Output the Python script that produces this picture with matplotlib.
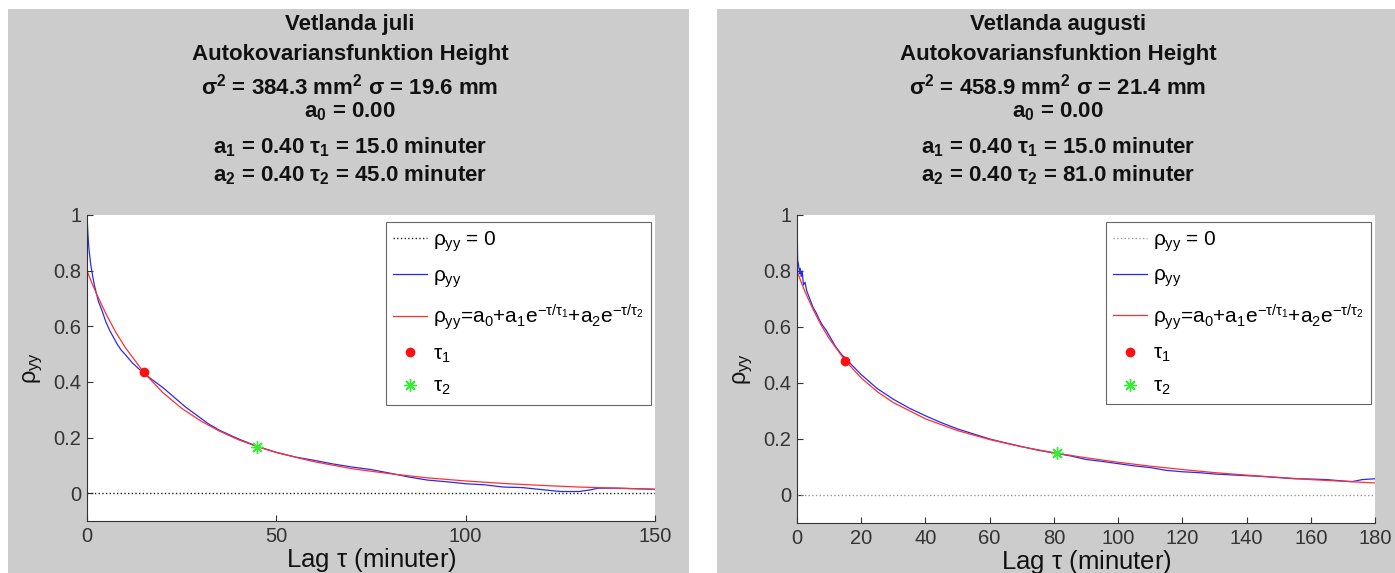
import matplotlib
matplotlib.use("Agg")
import matplotlib.pyplot as plt
from matplotlib.patches import Rectangle

plt.rcParams['font.family'] = ['Liberation Sans', 'DejaVu Sans']
plt.rcParams['mathtext.fontset'] = 'custom'
plt.rcParams['mathtext.rm'] = 'Liberation Sans'
plt.rcParams['mathtext.it'] = 'Liberation Sans'
plt.rcParams['mathtext.sf'] = 'Liberation Sans'
plt.rcParams['mathtext.bf'] = 'Liberation Sans:bold'

# ---- data: juli ----
juli_title = "Vetlanda juli"
juli_var, juli_std = 384.3, 19.6
juli_a0, juli_a1, juli_tau1, juli_a2, juli_tau2 = 0.00, 0.40, 15.0, 0.40, 45.0
juli_lag = [0, 0.25, 0.5, 1, 1.5, 2, 3, 4, 5, 6, 7, 8, 9, 10, 12, 14, 15, 17, 20, 23,
            26, 29, 32, 35, 40, 45, 50, 55, 60, 65, 70, 75, 80, 85, 90, 95, 100, 105,
            110, 115, 120, 125, 130, 133, 135, 140, 145, 150]
juli_rho = [1.0, 0.93, 0.88, 0.82, 0.78, 0.745, 0.69, 0.655, 0.615, 0.585, 0.56, 0.535,
            0.515, 0.50, 0.468, 0.443, 0.432, 0.41, 0.38, 0.345, 0.31, 0.28, 0.25, 0.226,
            0.195, 0.168, 0.147, 0.13, 0.118, 0.105, 0.094, 0.085, 0.072, 0.058, 0.047,
            0.041, 0.034, 0.03, 0.022, 0.02, 0.013, 0.006, 0.006, 0.012, 0.018, 0.018,
            0.016, 0.014]
juli_fit_lag = [0, 1.25, 2.5, 5, 7.5, 10, 15, 20, 25, 30, 35, 40, 45, 50, 60, 70, 80,
                90, 100, 110, 120, 130, 140, 150]
juli_fit_rho = [0.80, 0.757, 0.717, 0.645, 0.581, 0.526, 0.434, 0.362, 0.305, 0.260,
                0.223, 0.192, 0.167, 0.146, 0.113, 0.088, 0.070, 0.055, 0.044, 0.035,
                0.028, 0.022, 0.018, 0.014]
juli_pt1 = 0.434
juli_pt2 = 0.167
juli_xticks = [0, 50, 100, 150]

# ---- data: augusti ----
aug_title = "Vetlanda augusti"
aug_var, aug_std = 458.9, 21.4
aug_a0, aug_a1, aug_tau1, aug_a2, aug_tau2 = 0.00, 0.40, 15.0, 0.40, 81.0
aug_lag = [0, 0.2, 0.5, 0.8, 1.0, 1.3, 1.6, 2, 2.5, 3, 4, 5, 6, 7, 8, 9, 10, 12, 14, 15,
           17, 20, 25, 30, 35, 40, 45, 50, 55, 60, 65, 70, 75, 80, 85, 90, 95, 100, 105,
           110, 115, 120, 125, 130, 135, 140, 145, 150, 155, 160, 165, 170, 173, 176, 180]
aug_rho = [1.0, 0.84, 0.82, 0.79, 0.81, 0.78, 0.80, 0.75, 0.76, 0.73, 0.70, 0.67, 0.65,
           0.625, 0.605, 0.59, 0.57, 0.53, 0.50, 0.49, 0.465, 0.43, 0.38, 0.342, 0.31,
           0.283, 0.258, 0.236, 0.218, 0.20, 0.186, 0.173, 0.16, 0.15, 0.14, 0.127, 0.12,
           0.112, 0.104, 0.098, 0.088, 0.083, 0.08, 0.075, 0.072, 0.069, 0.066, 0.062,
           0.058, 0.057, 0.055, 0.05, 0.048, 0.055, 0.058]
aug_fit_lag = [0, 1.25, 2.5, 5, 7.5, 10, 15, 20, 25, 30, 40, 50, 60, 70, 81, 90, 100,
               110, 120, 130, 140, 150, 160, 170, 180]
aug_fit_rho = [0.80, 0.762, 0.726, 0.663, 0.607, 0.559, 0.480, 0.418, 0.369, 0.330,
               0.272, 0.230, 0.198, 0.172, 0.149, 0.133, 0.117, 0.103, 0.091, 0.080,
               0.071, 0.063, 0.055, 0.049, 0.043]
aug_pt1 = 0.480
aug_pt2 = 0.149
aug_xticks = [0, 20, 40, 60, 80, 100, 120, 140, 160, 180]

W, H = 1395, 573
fig = plt.figure(figsize=(W / 100, H / 100), dpi=100)
fig.patch.set_facecolor('white')

GRAY = '#cccccc'
fig.add_artist(Rectangle((8 / W, 0), 681 / W, 564 / H, transform=fig.transFigure,
                         facecolor=GRAY, edgecolor='none', zorder=-10))
fig.add_artist(Rectangle((717 / W, 0), 678 / W, 564 / H, transform=fig.transFigure,
                         facecolor=GRAY, edgecolor='none', zorder=-10))


def panel(rect, title_x, title, var, std, a0, a1, tau1, a2, tau2, lag, rho, fit_lag,
          fit_rho, pt1, pt2, xticks, zero_color, leg_anchor):
    x0, y0, x1, y1 = rect
    ax = fig.add_axes([x0 / W, 1 - y1 / H, (x1 - x0) / W, (y1 - y0) / H])
    ax.set_facecolor('white')
    xmax = xticks[-1]

    ax.plot([0, xmax], [0, 0], ls=':', color=zero_color, lw=1.0, label=r'$\rho_{yy}$ = 0')
    ax.plot(lag, rho, color='#2a2aee', lw=0.9, label=r'$\rho_{yy}$')
    ax.plot(fit_lag, fit_rho, color='#ff3030', lw=0.9,
            label=r'$\rho_{yy}$=a$_0$+a$_1$e$^{-\tau/\tau_1}$+a$_2$e$^{-\tau/\tau_2}$')
    ax.plot([tau1], [pt1], 'o', color='#ff1010', ms=6, label=r'$\tau_1$')
    ax.plot([tau2], [pt2], marker=(8, 2, 0), ls='none', color='#33ee33', ms=9, mew=1.0,
            label=r'$\tau_2$')

    ax.set_xlim(0, xmax)
    ax.set_ylim(-0.1, 1)
    ax.set_xticks(xticks)
    ax.set_yticks([0, 0.2, 0.4, 0.6, 0.8, 1])
    ax.set_yticklabels(['0', '0.2', '0.4', '0.6', '0.8', '1'])
    ax.tick_params(direction='in', length=4, width=0.8, labelsize=14.5, colors='#333333',
                   pad=4)
    for s in ['top', 'right']:
        ax.spines[s].set_visible(False)
    for s in ['left', 'bottom']:
        ax.spines[s].set_color('#333333')
        ax.spines[s].set_linewidth(0.8)

    ax.set_xlabel(r'Lag $\tau$ (minuter)', fontsize=18.5, color='#111111', labelpad=0)
    ax.set_ylabel(r'$\rho_{yy}$', fontsize=17, color='#111111', labelpad=6)

    leg = ax.legend(loc='upper right', bbox_to_anchor=leg_anchor, fontsize=15,
                    frameon=True, fancybox=False, framealpha=1, edgecolor='#666666',
                    handlelength=1.6, handletextpad=0.3, borderpad=0.35,
                    labelspacing=0.6, numpoints=1, borderaxespad=0)
    leg.get_frame().set_linewidth(0.8)

    lines = [
        title,
        "Autokovariansfunktion Height",
        r"σ$^{\mathbf{2}}$ = %.1f mm$^{\mathbf{2}}$ σ = %.1f mm" % (var, std),
        r"a$_{\mathbf{0}}$ = %.2f" % a0,
        r"a$_{\mathbf{1}}$ = %.2f τ$_{\mathbf{1}}$ = %.1f minuter" % (a1, tau1),
        r"a$_{\mathbf{2}}$ = %.2f τ$_{\mathbf{2}}$ = %.1f minuter" % (a2, tau2),
    ]
    baselines = [30, 60, 94, 117, 153, 181]
    for txt, b in zip(lines, baselines):
        fig.text(title_x / W, 1 - b / H, txt, ha='center', va='baseline', fontsize=16,
                 fontweight='bold', color='#111111')
    return ax


panel((87, 215, 655, 521), 350, juli_title, juli_var, juli_std, juli_a0, juli_a1,
      juli_tau1, juli_a2, juli_tau2, juli_lag, juli_rho, juli_fit_lag, juli_fit_rho,
      juli_pt1, juli_pt2, juli_xticks, '#222222', (0.993, 0.977))
panel((797, 215, 1375, 523), 1058, aug_title, aug_var, aug_std, aug_a0, aug_a1,
      aug_tau1, aug_a2, aug_tau2, aug_lag, aug_rho, aug_fit_lag, aug_fit_rho,
      aug_pt1, aug_pt2, aug_xticks, '#999999', (0.993, 0.978))

fig.savefig('out.png', dpi=100, facecolor='white')
